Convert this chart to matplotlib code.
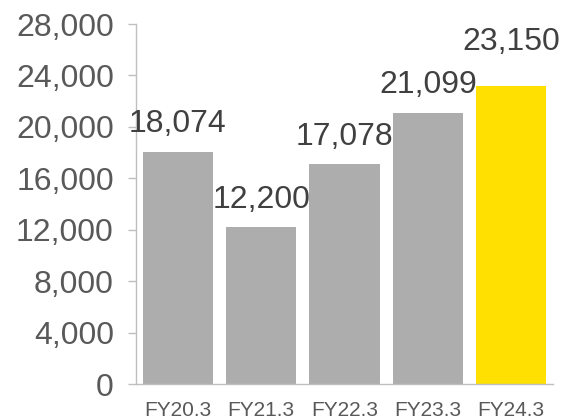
import matplotlib.pyplot as plt

# data
periods = ["FY20.3", "FY21.3", "FY22.3", "FY23.3", "FY24.3"]
values = [18074, 12200, 17078, 21099, 23150]
bar_colors = ["#ADADAD", "#ADADAD", "#ADADAD", "#ADADAD", "#FFE000"]
y_ticks = [0, 4000, 8000, 12000, 16000, 20000, 24000, 28000]

# label gap above bars (points); last label sits higher in the original
label_gaps = [9, 9, 9, 9, 21]

plt.rcParams['font.family'] = ['Liberation Sans', 'DejaVu Sans']

fig = plt.figure(figsize=(5.68, 4.19), dpi=100)
ax = fig.add_axes([0.2394, 0.0835, 0.7342, 0.8592])

x = range(len(periods))
bars = ax.bar(x, values, width=0.84, color=bar_colors)

# value labels above each bar
for xi, v, gap in zip(x, values, label_gaps):
    ax.annotate(f"{v:,}", (xi, v), xytext=(0, gap), textcoords="offset points",
                ha="center", va="bottom", fontsize=23, color="#404040")

ax.set_xlim(-0.5, 4.5)
ax.set_ylim(0, 28000)
ax.set_yticks(y_ticks)
ax.set_yticklabels([f"{t:,}" for t in y_ticks])
ax.set_xticks(list(x))
ax.set_xticklabels(periods)

ax.tick_params(axis="y", length=6, width=1, color="#BFBFBF", labelsize=23,
               labelcolor="#595959", pad=10)
ax.tick_params(axis="x", length=0, labelsize=15, labelcolor="#595959", pad=12)

for side in ["top", "right"]:
    ax.spines[side].set_visible(False)
for side in ["left", "bottom"]:
    ax.spines[side].set_color("#BFBFBF")
    ax.spines[side].set_linewidth(1)

fig.savefig("out.png", dpi=100)
